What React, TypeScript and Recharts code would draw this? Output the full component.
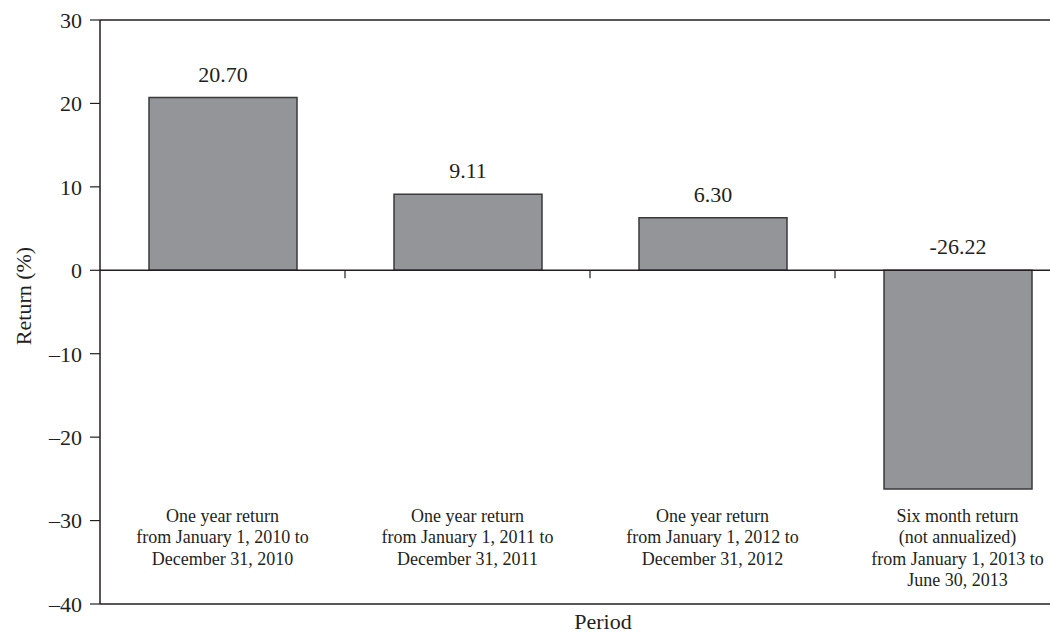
import { BarChart, Bar, XAxis, YAxis, ReferenceLine, LabelList } from 'recharts';

// category labels, lines split by '|'
const periods = [
  'One year return|from January 1, 2010 to|December 31, 2010',
  'One year return|from January 1, 2011 to|December 31, 2011',
  'One year return|from January 1, 2012 to|December 31, 2012',
  'Six month return|(not annualized)|from January 1, 2013 to|June 30, 2013',
];
const returns = [20.7, 9.11, 6.3, -26.22];
const yTicks = [-40, -30, -20, -10, 0, 10, 20, 30];
const yTickLabels = ['–40', '–30', '–20', '–10', '0', '10', '20', '30'];

const data = periods.map((p, i) => ({ period: p, value: returns[i] }));

const W = 1050;
const H = 639;
const TOP = 20;
const LEFT = 100;
const XAXIS_H = 35;
const PAD_RIGHT = -30;
const PLOT_H = H - TOP - XAXIS_H;
const BAND = (W - LEFT - PAD_RIGHT) / periods.length;
const ZERO_Y = TOP + (PLOT_H * 30) / 70;

const INK = '#231f20';
const FONT = "'Liberation Serif', 'Times New Roman', 'DejaVu Serif', serif";

function PeriodTick(props: any) {
  const { x, payload, index } = props;
  const lines = String(payload.value).split('|');
  return (
    <g>
      {index > 0 && (
        <line x1={x - BAND / 2} x2={x - BAND / 2} y1={ZERO_Y} y2={ZERO_Y + 8} stroke={INK} strokeWidth={1.2} />
      )}
      <text x={x} y={TOP + PLOT_H - 82} textAnchor="middle" fill={INK} style={{ fontFamily: FONT, fontSize: 18 }}>
        {lines.map((l, i) => (
          <tspan key={i} x={x} dy={i === 0 ? 0 : 21.3}>
            {l}
          </tspan>
        ))}
      </text>
    </g>
  );
}

function ValueLabel(props: any) {
  const { x, y, width, height, value } = props;
  const top = Math.min(y, y + height);
  return (
    <text x={x + width / 2} y={top - 16} textAnchor="middle" fill={INK} style={{ fontFamily: FONT, fontSize: 22 }}>
      {Number(value).toFixed(2)}
    </text>
  );
}

function YLabel(props: any) {
  const { viewBox } = props;
  const cx = viewBox.x + 23;
  const cy = viewBox.y + viewBox.height / 2 - 16;
  return (
    <text x={cx} y={cy} transform={`rotate(-90, ${cx}, ${cy})`} textAnchor="middle" dominantBaseline="central"
      fill={INK} style={{ fontFamily: FONT, fontSize: 22 }}>
      Return (%)
    </text>
  );
}

function XLabel(props: any) {
  const { viewBox } = props;
  return (
    <text x={viewBox.x + viewBox.width / 2 + 28} y={viewBox.y + viewBox.height - 10} textAnchor="middle"
      fill={INK} style={{ fontFamily: FONT, fontSize: 22 }}>
      Period
    </text>
  );
}

export default function App() {
  return (
    <div style={{ position: 'absolute', left: 0, top: 0, background: '#fff', fontFamily: FONT }}>
      <BarChart width={W} height={H} data={data} margin={{ top: TOP, right: 0, left: 0, bottom: 0 }} barSize={148}
        style={{ fontFamily: FONT }}>
        <XAxis
          dataKey="period"
          height={XAXIS_H}
          padding={{ left: 0, right: PAD_RIGHT }}
          axisLine={{ stroke: INK, strokeWidth: 1.5 }}
          tickLine={false}
          tick={<PeriodTick />}
          interval={0}
          label={<XLabel />}
        />
        <YAxis
          width={LEFT}
          domain={[-40, 30]}
          ticks={yTicks}
          interval={0}
          tickSize={10}
          tickMargin={8}
          tickFormatter={(v) => yTickLabels[yTicks.indexOf(v)]}
          axisLine={{ stroke: INK, strokeWidth: 1.5 }}
          tickLine={{ stroke: INK, strokeWidth: 1.2 }}
          tick={{ fill: INK, style: { fontFamily: FONT, fontSize: 22 } }}
          label={<YLabel />}
        />
        <ReferenceLine y={30} stroke={INK} strokeWidth={1.5} />
        <Bar dataKey="value" fill="#939598" stroke="#3a3a3c" strokeWidth={1.5} isAnimationActive={false}>
          <LabelList dataKey="value" content={<ValueLabel />} />
        </Bar>
        <ReferenceLine y={0} stroke={INK} strokeWidth={1.5} />
      </BarChart>
    </div>
  );
}
